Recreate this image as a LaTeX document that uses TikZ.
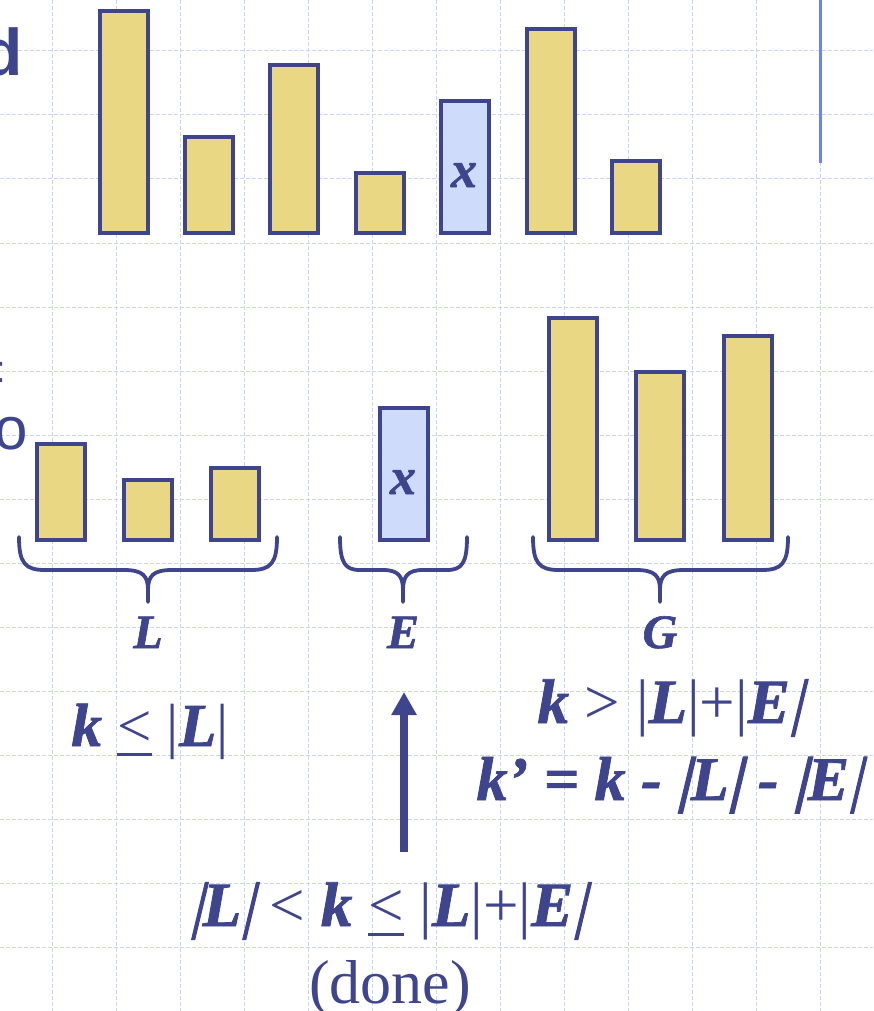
\documentclass[tikz,border=0pt]{standalone}
\usepackage{fontspec}
\setmainfont{Liberation Serif}[BoldItalicFeatures={FakeBold=1.3}]
\newfontfamily\arialf{Liberation Sans}
\newfontfamily\slbarf{Liberation Serif}[FakeSlant=0.24, FakeBold=1.6]
\usetikzlibrary{arrows.meta}
\definecolor{ink}{HTML}{3F458D}
\definecolor{bary}{HTML}{EAD784}
\definecolor{barb}{HTML}{CEDBFA}
\definecolor{gridc}{HTML}{C9D5F7}
\definecolor{vlc}{HTML}{6C84F0}
\newcommand\bfit[1]{{\bfseries\itshape #1}}
\newcommand\slbar{{\slbarf |}}
\newcommand\ulsym[1]{\leavevmode\vtop{\hbox{#1}\kern7pt\hrule height 3.3pt depth 0pt}}
\begin{document}
\begin{tikzpicture}[x=1pt,y=-1pt,
  bar/.style={draw=ink, line width=4pt, inner sep=0pt, outer sep=0pt, minimum width=48pt, anchor=south west},
  ybar/.style={bar, fill=bary},
  bbar/.style={bar, fill=barb},
  eq/.style={text=ink, inner sep=0pt, outer sep=0pt, anchor=base, font=\fontsize{63}{70}\selectfont},
  setlbl/.style={text=ink, inner sep=0pt, anchor=base, font=\fontsize{48}{56}\selectfont\bfseries\itshape},
  xlbl/.style={text=ink, inner sep=0pt, anchor=base, font=\fontsize{52}{60}\selectfont\bfseries\itshape},
  cut/.style={text=ink, inner sep=0pt, anchor=base west},
  gridline/.style={draw=gridc, line width=1pt, dash pattern=on 4pt off 2pt},
  brace/.style={draw=ink, line width=3.8pt, line cap=round, line join=round},
  arr/.style={draw=ink, line width=8pt, -{Triangle[length=23pt,width=24pt]}}
]
\fill[white] (0,0) rectangle (873,1011);
\useasboundingbox (0,0) rectangle (873,1011);
% grid
\foreach \y in {51,115,...,1011} \draw[gridline] (0,\y) -- (873,\y);
\foreach \x in {52,116,...,873} \draw[gridline] (\x,0) -- (\x,1011);
\draw[vlc, line width=3pt] (820,0) -- (820,163);
% cut-off text at left edge
\node[cut, font=\fontsize{66}{70}\selectfont\arialf\bfseries] (tD) at (-18,76) {d};
\node[cut, font=\fontsize{38}{42}\selectfont\arialf] (tC) at (-4.5,382) {:};
\node[cut, font=\fontsize{60}{66}\selectfont\arialf] (tO) at (-6,449) {o};
% top row
\node[ybar, minimum height=222pt] (t1) at (100,233) {};
\node[ybar, minimum height=96pt]  (t2) at (185.3,233) {};
\node[ybar, minimum height=168pt] (t3) at (270.3,233) {};
\node[ybar, minimum height=60pt]  (t4) at (356,233) {};
\node[bbar, minimum height=132pt] (t5) at (441.3,233) {};
\node[ybar, minimum height=204pt] (t6) at (526.7,233) {};
\node[ybar, minimum height=72pt]  (t7) at (612,233) {};
\node[xlbl] (xt) at (464,187) {x};
% bottom row
\node[ybar, minimum height=96pt]  (l1) at (37,540) {};
\node[ybar, minimum height=60pt]  (l2) at (124,540) {};
\node[ybar, minimum height=72pt]  (l3) at (211,540) {};
\node[bbar, minimum height=132pt] (e1) at (380,540) {};
\node[ybar, minimum height=222pt] (g1) at (548.5,540) {};
\node[ybar, minimum height=168pt] (g2) at (636,540) {};
\node[ybar, minimum height=204pt] (g3) at (724,540) {};
\node[xlbl] (xb) at (403,494) {x};
% braces
\draw[brace] (19,537) .. controls (19,563) and (25,570) .. (45,570) -- (124,570)
  .. controls (143,570) and (148,576) .. (148,590) -- (148,602) -- (148,590)
  .. controls (148,576) and (153,570) .. (172,570) -- (251,570)
  .. controls (271,570) and (277,563) .. (277,537);
\draw[brace] (340,537) .. controls (340,563) and (345,570) .. (360,570) -- (383,570)
  .. controls (398,570) and (403,576) .. (403,590) -- (403,602) -- (403,590)
  .. controls (403,576) and (408,570) .. (423,570) -- (447,570)
  .. controls (462,570) and (467,563) .. (467,537);
\draw[brace] (533,537) .. controls (533,563) and (539,570) .. (559,570) -- (636,570)
  .. controls (655,570) and (660,576) .. (660,590) -- (660,602) -- (660,590)
  .. controls (660,576) and (665,570) .. (684,570) -- (762,570)
  .. controls (782,570) and (788,563) .. (788,537);
% set labels
\node[setlbl] (lblL) at (148,648) {L};
\node[setlbl] (lblE) at (403,648) {E};
\node[setlbl] (lblG) at (660,648) {G};
% conditions
\node[eq, font=\fontsize{61}{70}\selectfont] (condL) at (150,746) {\bfit{k} \ulsym{<} |\bfit{L}|};
\node[eq] (condG) at (670,723) {\bfit{k} > |\bfit{L}|+|\bfit{E}\slbar};
\node[eq, font=\fontsize{62}{70}\selectfont] (condG2) at (669,800) {\bfit{k’ = k - \slbar L\slbar{} - \slbar E}\slbar};
\node[eq] (condE) at (388,926) {\slbar\bfit{L}\slbar{} < \bfit{k} \ulsym{<} |\bfit{L}|+|\bfit{E}\slbar};
\node[eq, font=\fontsize{62}{70}\selectfont] (done) at (390,1003) {(done)};
% arrow
\coordinate (aS) at (404,852);
\coordinate (aN) at (404,692);
\draw[arr] (aS) -- (aN);
\end{tikzpicture}
\end{document}
